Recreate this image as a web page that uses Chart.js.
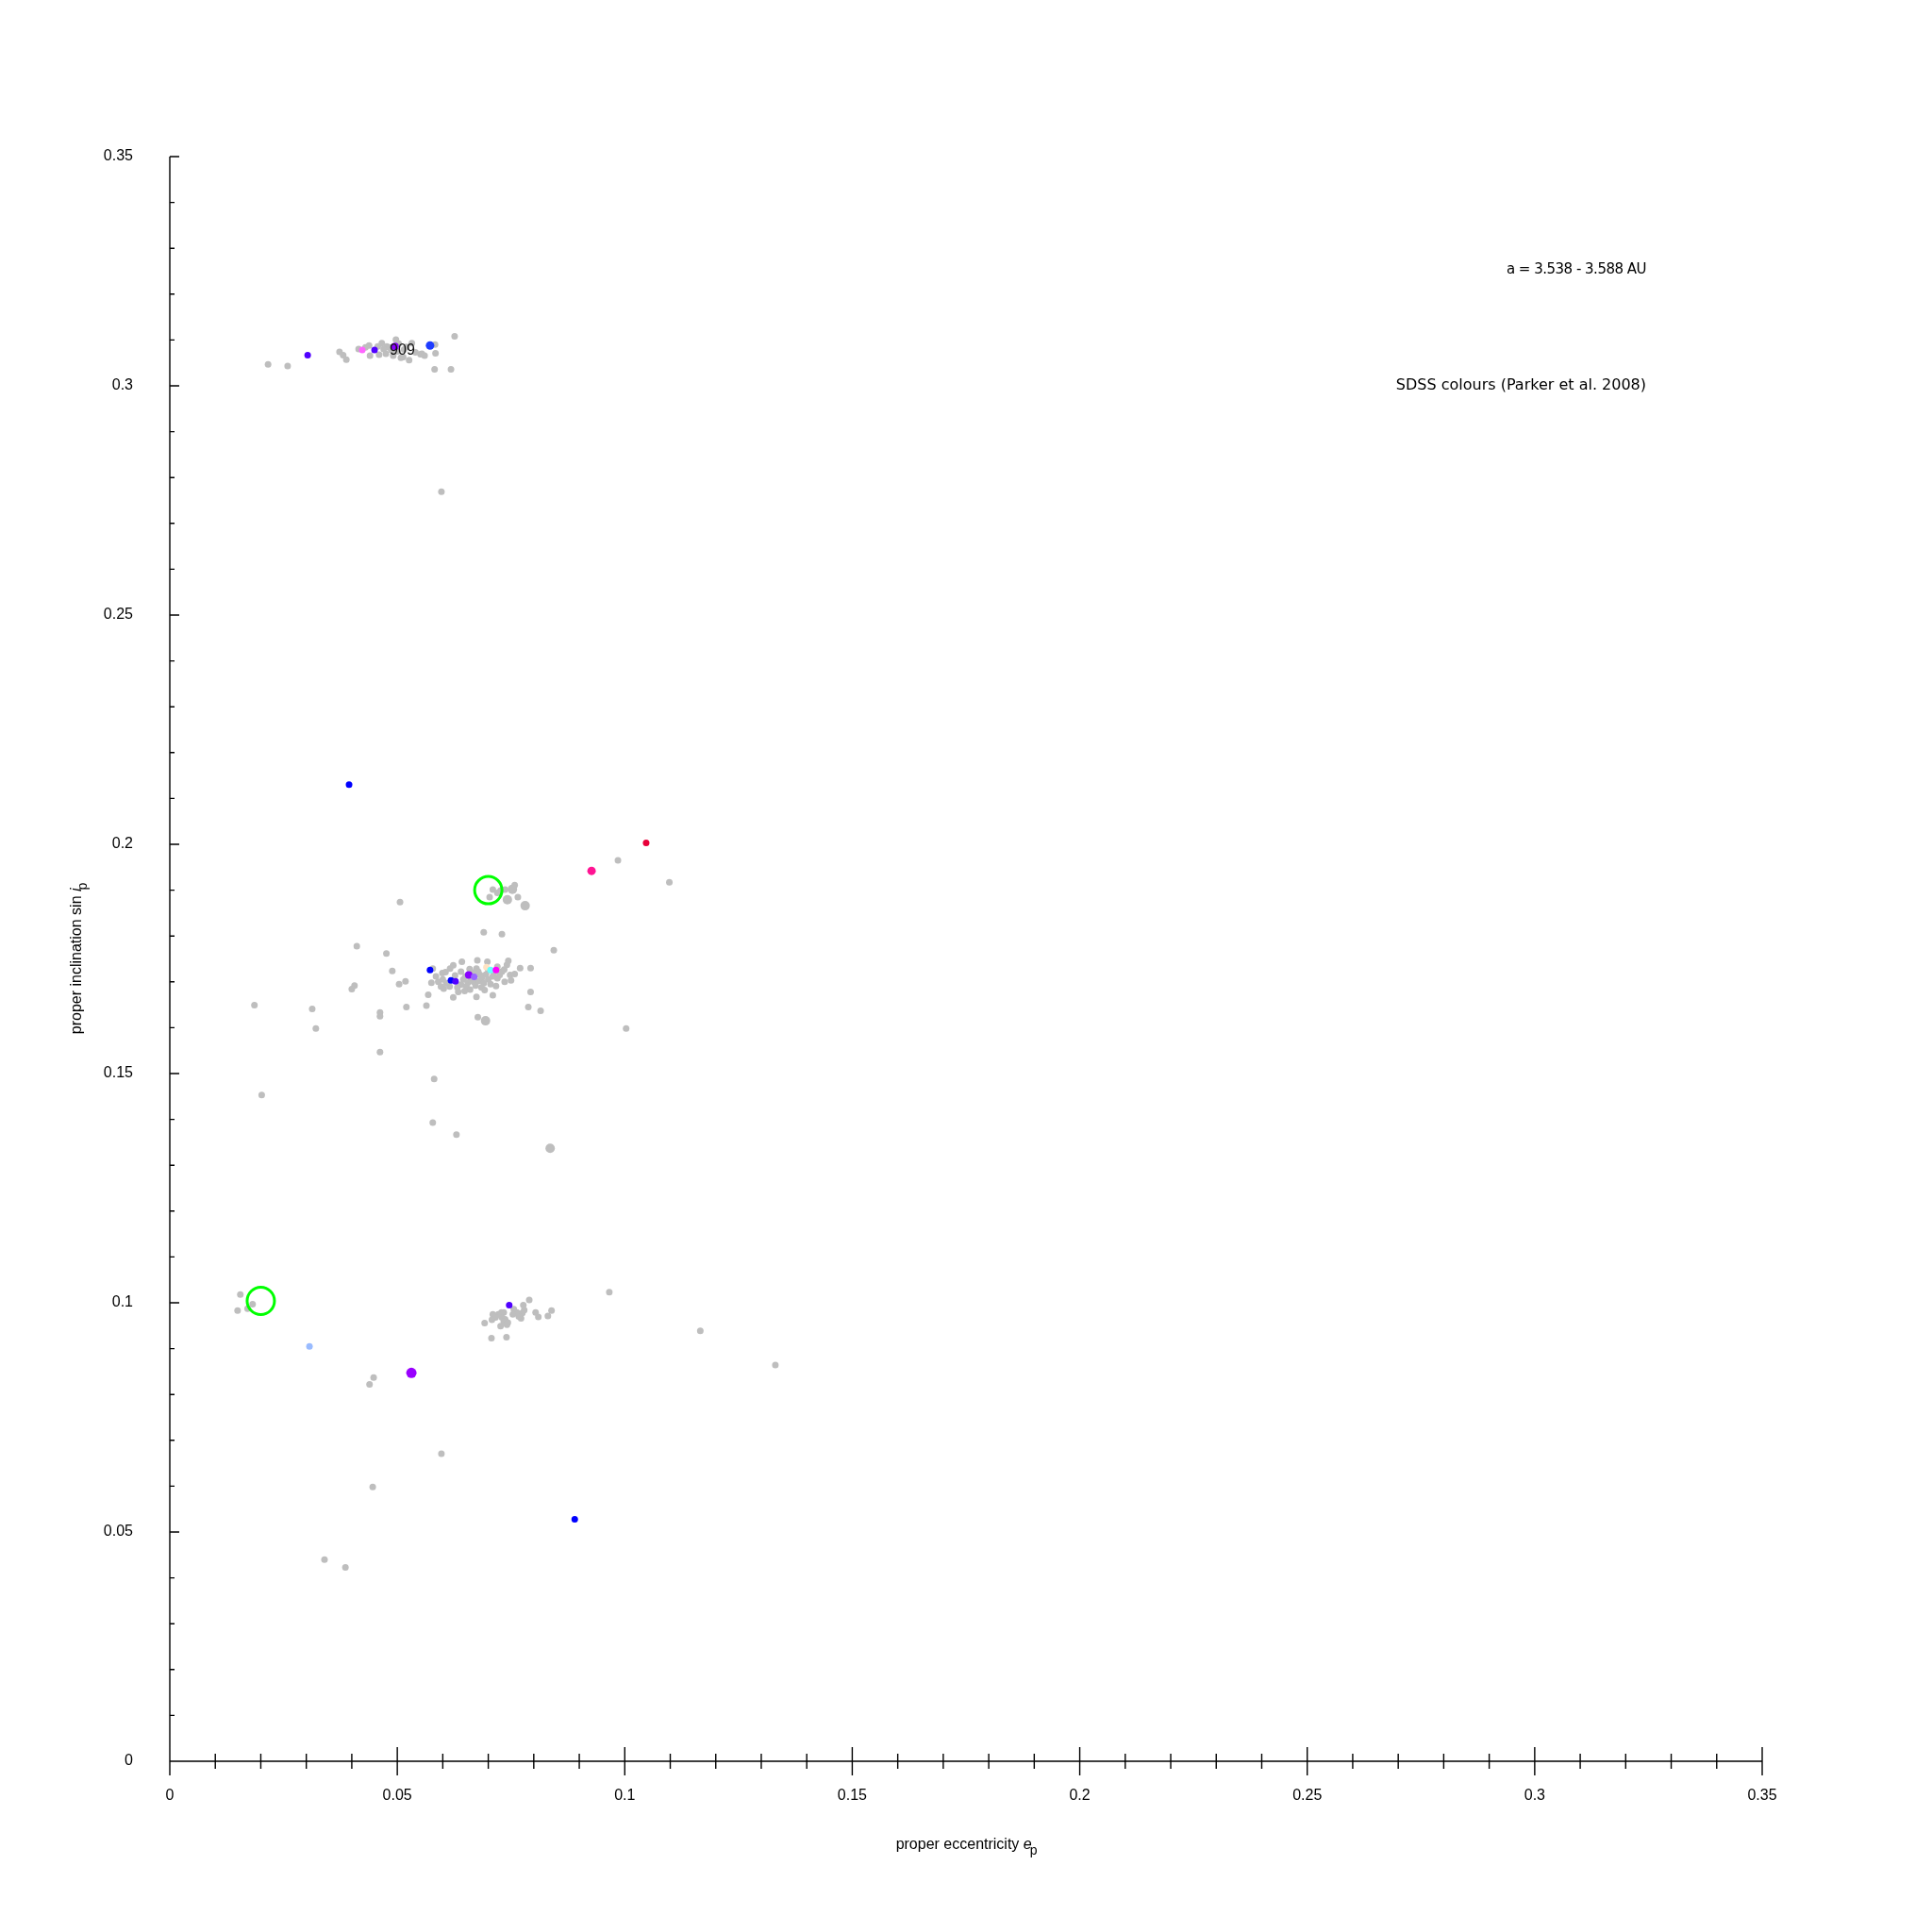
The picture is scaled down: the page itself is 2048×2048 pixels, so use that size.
<!DOCTYPE html>
<html>
<head>
<meta charset="utf-8">
<script src="https://cdn.jsdelivr.net/npm/chart.js@4.4.1/dist/chart.umd.min.js"></script>
<style>
  html, body { margin: 0; padding: 0; background: #fff; }
</style>
</head>
<body>
<canvas id="grafico" width="2048" height="2048"></canvas>
<script>
/* DADOS: [e_p, sin i_p] */
const cinza = [
  [0.0216,0.3047],[0.0259,0.3043],[0.0373,0.3074],[0.0381,0.3067],[0.0388,0.3057],[0.0415,0.3080],
  [0.0430,0.3084],[0.0438,0.3088],[0.0440,0.3066],[0.0457,0.3086],[0.0460,0.3068],[0.0466,0.3093],
  [0.0475,0.3070],[0.0477,0.3086],[0.0482,0.3084],[0.0491,0.3066],[0.0497,0.3101],[0.0503,0.3092],
  [0.0508,0.3061],[0.0513,0.3063],[0.0520,0.3085],[0.0526,0.3056],[0.0532,0.3093],[0.0540,0.3073],
  [0.0551,0.3069],[0.0554,0.3070],[0.0560,0.3066],[0.0583,0.3090],[0.0584,0.3071],[0.0626,0.3108],
  [0.0582,0.3036],[0.0618,0.3036],[0.0487,0.3078],[0.0500,0.3075],[0.0515,0.3079],[0.0470,0.3080],
  [0.0597,0.2769],
  [0.0506,0.1874],[0.0710,0.1901],[0.0703,0.1885],[0.0720,0.1894],[0.0727,0.1899],[0.0737,0.1901],
  [0.0758,0.1911],[0.0765,0.1885],[0.0985,0.1965],[0.1098,0.1917],[0.0690,0.1808],[0.0730,0.1804],
  [0.0844,0.1769],[0.0411,0.1778],[0.0476,0.1762],[0.0489,0.1724],[0.0406,0.1692],[0.0400,0.1684],
  [0.0504,0.1695],[0.0518,0.1701],[0.0520,0.1645],[0.0564,0.1648],[0.0568,0.1672],
  [0.0186,0.1649],[0.0313,0.1641],[0.0321,0.1598],[0.0462,0.1633],[0.0462,0.1625],[0.0462,0.1547],
  [0.0581,0.1488],[0.0202,0.1453],[0.0578,0.1393],[0.0630,0.1367],[0.1003,0.1598],
  [0.0578,0.1729],[0.0585,0.1712],[0.0575,0.1698],[0.0599,0.1719],[0.0606,0.1721],[0.0616,0.1729],
  [0.0623,0.1736],[0.0627,0.1714],[0.0640,0.1722],[0.0642,0.1744],[0.0659,0.1728],[0.0674,0.1729],
  [0.0676,0.1747],[0.0682,0.1715],[0.0698,0.1744],[0.0710,0.1712],[0.0717,0.1691],[0.0744,0.1746],
  [0.0741,0.1737],[0.0748,0.1715],[0.0750,0.1703],[0.0758,0.1717],[0.0770,0.1730],[0.0793,0.1730],
  [0.0736,0.1700],[0.0710,0.1671],[0.0674,0.1667],[0.0623,0.1666],[0.0634,0.1678],[0.0793,0.1678],
  [0.0788,0.1645],[0.0815,0.1637],[0.0677,0.1623],
  [0.0645,0.1705],[0.0650,0.1712],[0.0655,0.1698],[0.0662,0.1705],[0.0668,0.1700],[0.0672,0.1692],
  [0.0680,0.1702],[0.0686,0.1709],[0.0690,0.1697],[0.0695,0.1716],[0.0700,0.1705],[0.0705,0.1695],
  [0.0712,0.1720],[0.0720,0.1708],[0.0725,0.1715],[0.0730,0.1722],[0.0652,0.1690],[0.0640,0.1694],
  [0.0632,0.1688],[0.0615,0.1690],[0.0608,0.1697],[0.0600,0.1705],[0.0590,0.1700],[0.0660,0.1683],
  [0.0648,0.1680],[0.0685,0.1688],[0.0692,0.1682],[0.0678,0.1722],[0.0668,0.1720],[0.0700,0.1726],
  [0.0735,0.1727],[0.0720,0.1733],[0.0602,0.1685],[0.0596,0.1690],
  [0.0155,0.1018],[0.0149,0.0983],[0.0171,0.0987],[0.0182,0.0997],[0.0448,0.0837],[0.0439,0.0822],
  [0.0692,0.0956],[0.0707,0.0923],[0.0740,0.0925],[0.0839,0.0983],[0.0831,0.0971],[0.0790,0.1006],
  [0.0777,0.0995],[0.0804,0.0979],[0.0810,0.0969],[0.0756,0.0986],[0.0763,0.0979],[0.0775,0.0978],
  [0.0779,0.0984],[0.0772,0.0966],[0.0767,0.0970],[0.0754,0.0975],[0.0734,0.0979],[0.0729,0.0979],
  [0.0722,0.0975],[0.0710,0.0975],[0.0716,0.0968],[0.0708,0.0963],[0.0730,0.0968],[0.0737,0.0964],
  [0.0734,0.0959],[0.0743,0.0957],[0.0741,0.0952],[0.0727,0.0949],
  [0.0966,0.1023],[0.1166,0.0939],[0.1331,0.0864],[0.0597,0.0671],[0.0446,0.0598],[0.0340,0.0440],
  [0.0386,0.0423]
];
const cinzaGrande = [[0.0753,0.1902],[0.0742,0.1879],[0.0781,0.1866],[0.0836,0.1337],[0.0694,0.1615]];

const azul = [[0.0394,0.2130],[0.0890,0.0528],[0.0572,0.1726],[0.0618,0.1703]];
const azulGrande = [[0.0572,0.3088]];
const anil = [[0.0303,0.3067],[0.0450,0.3078],[0.0628,0.1701],[0.0746,0.0995]];
const roxo = [[0.0657,0.1715],[0.0495,0.3086]];
const roxoGrande = [[0.0531,0.0847]];
const lavanda = [[0.0669,0.1711]];
const violeta = [[0.0423,0.3078]];
const magenta = [[0.0717,0.1726]];
const ciano = [[0.0705,0.1726]];
const pessego = [[0.0696,0.1732]];
const rosa = [[0.0927,0.1942]];
const vermelho = [[0.1047,0.2003]];
const azulClaro = [[0.0307,0.0905]];
const circulos = [[0.0200,0.1004],[0.0700,0.1900]];

const ticksEixo = [0, 0.05, 0.1, 0.15, 0.2, 0.25, 0.3, 0.35];
const rotulo909 = { texto: "909", e: 0.0511, s: 0.3077 };

const pts = arr => arr.map(p => ({ x: p[0], y: p[1] }));

function serie(dados, cor, raio) {
  return {
    data: pts(dados),
    backgroundColor: cor,
    borderColor: cor,
    borderWidth: 0,
    pointStyle: "circle",
    pointRadius: raio
  };
}

/* EIXOS + TEXTOS */
const eixos = {
  id: "eixos",
  afterDraw(chart) {
    const { ctx, chartArea: a, scales: { x, y } } = chart;
    ctx.save();
    ctx.strokeStyle = "#000";
    ctx.lineWidth = 1.4;
    ctx.beginPath();
    ctx.moveTo(a.left, a.top);
    ctx.lineTo(a.left, a.bottom);
    ctx.lineTo(a.right, a.bottom);
    for (let k = 0; k <= 35; k++) {
      const v = k / 100;
      const maior = k % 5 === 0;
      const px = x.getPixelForValue(v);
      const L = maior ? 15 : 8;
      ctx.moveTo(px, a.bottom - L);
      ctx.lineTo(px, a.bottom + L);
      const py = y.getPixelForValue(v);
      ctx.moveTo(a.left, py);
      ctx.lineTo(a.left + (maior ? 10 : 5), py);
    }
    ctx.stroke();

    // titulos
    ctx.fillStyle = "#000";
    ctx.textBaseline = "alphabetic";
    function titulo(cx, cy, base, simb, rot) {
      ctx.save();
      ctx.translate(cx, cy);
      ctx.rotate(rot);
      ctx.font = "16px 'Liberation Sans'";
      const w1 = ctx.measureText(base).width;
      ctx.font = "italic 16px 'Liberation Sans'";
      const w2 = ctx.measureText(simb).width;
      ctx.font = "14px 'Liberation Sans'";
      const w3 = ctx.measureText("p").width;
      let x0 = -(w1 + w2 + w3 * 0.6) / 2;
      ctx.textAlign = "left";
      ctx.font = "16px 'Liberation Sans'";
      ctx.fillText(base, x0, 6);
      ctx.font = "italic 16px 'Liberation Sans'";
      ctx.fillText(simb, x0 + w1, 6);
      ctx.font = "14px 'Liberation Sans'";
      ctx.fillText("p", x0 + w1 + w2 - 2, 12);
      ctx.restore();
    }
    titulo((a.left + a.right) / 2, 1954, "proper eccentricity ", "e", 0);
    titulo(80, (a.top + a.bottom) / 2, "proper inclination sin ", "i", -Math.PI / 2);

    // anotacoes
    ctx.textAlign = "right";
    ctx.textBaseline = "middle";
    ctx.font = "15px 'DejaVu Sans'";
    ctx.letterSpacing = "-0.5px";
    ctx.fillText("a = 3.538 - 3.588 AU", x.getPixelForValue(0.3245), y.getPixelForValue(0.3252));
    ctx.letterSpacing = "0px";
    ctx.font = "16px 'DejaVu Sans'";
    ctx.fillText("SDSS colours (Parker et al. 2008)", x.getPixelForValue(0.3245), y.getPixelForValue(0.3001));

    ctx.font = "16px 'Liberation Sans'";
    ctx.textAlign = "center";
    ctx.fillStyle = "#111";
    ctx.fillText(rotulo909.texto, x.getPixelForValue(rotulo909.e), y.getPixelForValue(rotulo909.s));
    ctx.restore();
  }
};

const fmt = v => String(+Number(v).toFixed(2));

new Chart(document.getElementById("grafico"), {
  type: "scatter",
  data: {
    datasets: [
      {
        data: pts(circulos),
        backgroundColor: "rgba(0,0,0,0)",
        borderColor: "#00ff00",
        borderWidth: 3,
        pointStyle: "circle",
        pointRadius: 14.5
      },
      serie(vermelho, "#e8003a", 3.5),
      serie(rosa, "#ff1493", 4.5),
      serie(magenta, "#ff00ff", 3.5),
      serie(ciano, "#66ffff", 3.5),
      serie(pessego, "#ffe4c4", 3.5),
      serie(violeta, "#ff66ff", 3.5),
      serie(lavanda, "#9966ff", 3.5),
      serie(roxoGrande, "#9900ff", 5.5),
      serie(roxo, "#8a00ff", 4),
      serie(anil, "#5000ff", 3.5),
      serie(azulGrande, "#1e3cff", 4.5),
      serie(azul, "#0000ff", 3.5),
      serie(azulClaro, "#99bbff", 3.5),
      serie(cinzaGrande, "#bebebe", 5),
      serie(cinza, "#bebebe", 3.5)
    ]
  },
  options: {
    responsive: false,
    animation: false,
    events: [],
    layout: { padding: { top: 166, right: 180, left: 0, bottom: 0 } },
    plugins: { legend: { display: false }, tooltip: { enabled: false } },
    scales: {
      x: {
        type: "linear",
        min: 0,
        max: 0.35,
        grid: { display: false, drawTicks: false },
        border: { display: false },
        afterBuildTicks: s => { s.ticks = ticksEixo.map(v => ({ value: v })); },
        ticks: {
          padding: 27,
          color: "#000",
          maxRotation: 0,
          autoSkip: false,
          font: { family: "Liberation Sans", size: 16 },
          callback: v => fmt(v)
        },
        afterFit: s => { s.height = 181; }
      },
      y: {
        type: "linear",
        min: 0,
        max: 0.35,
        grid: { display: false, drawTicks: false },
        border: { display: false },
        afterBuildTicks: s => { s.ticks = ticksEixo.map(v => ({ value: v })); },
        ticks: {
          padding: 39,
          color: "#000",
          autoSkip: false,
          font: { family: "Liberation Sans", size: 16 },
          callback: v => fmt(v)
        },
        afterFit: s => { s.width = 180; }
      }
    }
  },
  plugins: [eixos]
});
</script>
</body>
</html>
